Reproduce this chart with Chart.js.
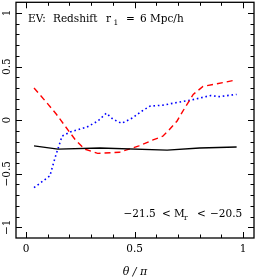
<!DOCTYPE html>
<html>
<head>
<meta charset="utf-8">
<script src="https://cdn.jsdelivr.net/npm/chart.js@4"></script>
<style>
  html, body { margin: 0; padding: 0; background: #fff; }
  #wrap { width: 255px; height: 279px; }
</style>
</head>
<body>
<div id="wrap"><canvas id="myChart" width="255" height="279"></canvas></div>
<script>
// values
const blackX = [0.037, 0.147, 0.34, 0.65, 0.8, 0.97];
const blackY = [-0.24, -0.27, -0.26, -0.28, -0.26, -0.25];

const redX = [0.037, 0.097, 0.14, 0.18, 0.226, 0.27, 0.33, 0.43, 0.52, 0.585, 0.63, 0.655, 0.695, 0.73, 0.77, 0.815, 0.88, 0.955];
const redY = [0.30, 0.16, 0.055, -0.055, -0.18, -0.27, -0.31, -0.30, -0.24, -0.185, -0.15, -0.10, -0.01, 0.11, 0.24, 0.315, 0.34, 0.37];

const blueX = [0.037, 0.11, 0.134, 0.166, 0.203, 0.28, 0.33, 0.37, 0.40, 0.44, 0.49, 0.53, 0.57, 0.63, 0.71, 0.755, 0.85, 0.89, 0.97];
const blueY = [-0.63, -0.52, -0.35, -0.15, -0.11, -0.065, -0.01, 0.065, 0.01, -0.03, 0.02, 0.08, 0.13, 0.14, 0.17, 0.185, 0.23, 0.22, 0.24];

const xTicks = [0, 0.5, 1];
const yTicks = [-1, -0.5, 0, 0.5, 1];

const SERIF = '"DejaVu Serif", serif';

const toPoints = (xs, ys) => xs.map((x, i) => ({x: x, y: ys[i]}));
const fmt = (v) => (v < 0 ? '\u2212' : '') + Math.abs(v);

// words of the two labels, spaced like the reference: [text, x, subscript?]
const topLabel = [['EV:', 28], ['Redshift', 53], ['r', 106], ['1', 113.5, true], ['=', 126], ['6', 140], ['Mpc/h', 150]];
const magLabel = [['\u221221.5', 123.5], ['<', 162], ['M', 174], ['r', 184, true], ['<', 197], ['\u221220.5', 210]];

const drawWords = (ctx, words, baseY) => {
    for (const [t, x, sub] of words) {
        ctx.font = (sub ? '7.5px ' : '10.5px ') + SERIF;
        ctx.fillText(t, x, sub ? baseY + 3 : baseY);
    }
};

// tick marks on all four sides, inside the box
const boxTicks = {
    id: 'boxTicks',
    afterDraw(chart) {
        const {ctx, chartArea: a, scales: {x, y}} = chart;
        ctx.save();
        ctx.strokeStyle = '#000';
        ctx.lineWidth = 1;
        ctx.beginPath();
        for (let i = -1; i <= 11; i++) {
            const v = i / 10;
            const px = Math.round(x.getPixelForValue(v)) + 0.5;
            if (px < a.left + 1 || px > a.right - 1) continue;
            const len = (i % 5 === 0) ? 6 : 3.5;
            ctx.moveTo(px, a.bottom); ctx.lineTo(px, a.bottom - len);
            ctx.moveTo(px, a.top); ctx.lineTo(px, a.top + len);
        }
        for (let i = -11; i <= 11; i++) {
            const v = i / 10;
            const py = Math.round(y.getPixelForValue(v)) + 0.5;
            if (py < a.top + 1 || py > a.bottom - 1) continue;
            const len = (i % 5 === 0) ? 6 : 3.5;
            ctx.moveTo(a.left, py); ctx.lineTo(a.left + len, py);
            ctx.moveTo(a.right, py); ctx.lineTo(a.right - len, py);
        }
        ctx.stroke();
        ctx.lineWidth = 1.3;
        ctx.strokeRect(a.left, a.top, a.right - a.left, a.bottom - a.top);

        ctx.fillStyle = '#000';
        ctx.textBaseline = 'alphabetic';
        ctx.textAlign = 'left';
        drawWords(ctx, topLabel, 22);
        drawWords(ctx, magLabel, 217);
        ctx.restore();
    }
};

const ctxL = document.getElementById('myChart').getContext('2d');
const myChart = new Chart(ctxL, {
    type: 'scatter',
    data: {
        datasets: [{
            data: toPoints(blackX, blackY),
            showLine: true,
            borderColor: '#000000',
            borderWidth: 1.4,
            pointRadius: 0,
            tension: 0
        }, {
            data: toPoints(redX, redY),
            showLine: true,
            borderColor: '#ff0000',
            borderWidth: 1.4,
            borderDash: [6, 4],
            pointRadius: 0,
            tension: 0
        }, {
            data: toPoints(blueX, blueY),
            showLine: true,
            borderColor: '#0000ff',
            borderWidth: 1.6,
            borderDash: [1.6, 2.8],
            pointRadius: 0,
            tension: 0
        }]
    },
    options: {
        responsive: false,
        animation: false,
        devicePixelRatio: 1,
        layout: {padding: {top: 1, right: 1, left: 0, bottom: 0}},
        plugins: {legend: {display: false}, tooltip: {enabled: false}},
        scales: {
            x: {
                type: 'linear',
                min: -0.046,
                max: 1.05,
                afterBuildTicks: (s) => { s.ticks = xTicks.map(v => ({value: v})); },
                afterFit: (s) => { s.height = 41; },
                border: {display: false},
                grid: {display: false, drawTicks: false},
                ticks: {
                    color: '#000',
                    font: {family: SERIF, size: 10.5},
                    padding: 5,
                    maxRotation: 0,
                    callback: (v) => fmt(v)
                },
                title: {
                    display: true,
                    text: '\u03b8 / \u03c0',
                    color: '#000',
                    font: {family: SERIF, size: 11, style: 'italic'},
                    padding: {top: 2, bottom: 0}
                }
            },
            y: {
                type: 'linear',
                min: -1.1,
                max: 1.1,
                afterBuildTicks: (s) => { s.ticks = yTicks.map(v => ({value: v})); },
                afterFit: (s) => { s.width = 16; },
                border: {display: false},
                grid: {display: false, drawTicks: false},
                ticks: {
                    color: '#000',
                    font: {family: SERIF, size: 10.5},
                    padding: -4,
                    crossAlign: 'center',
                    minRotation: 90,
                    maxRotation: 90,
                    callback: (v) => fmt(v)
                }
            }
        }
    },
    plugins: [boxTicks]
});
</script>
</body>
</html>
